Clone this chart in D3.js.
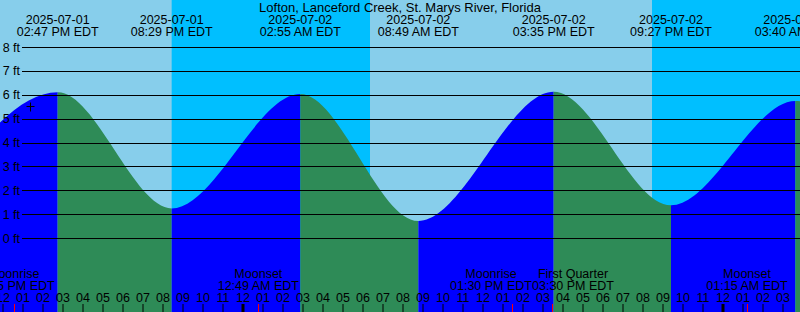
<!DOCTYPE html>
<html>
<head>
<meta charset="utf-8">
<script src="https://cdn.jsdelivr.net/npm/d3@7"></script>
<style>
  body { margin: 0; background: #fff; }
  svg { display: block; font-family: 'Liberation Sans', Arial, sans-serif; font-size: 12.5px; }
</style>
</head>
<body>
<script>
// tide extremes (first and last lie outside the visible window)
const tideTimes = ["2025-07-01 08:10", "2025-07-01 14:47", "2025-07-01 20:29", "2025-07-02 02:55",
                   "2025-07-02 08:49", "2025-07-02 15:35", "2025-07-02 21:27", "2025-07-03 03:40", "2025-07-03 09:50"];
const tideHeights = [0.9, 6.1, 1.24, 6.03, 0.71, 6.13, 1.37, 5.74, 0.95];

// night periods (sunset -> sunrise)
const nightStart = ["2025-07-01 20:29", "2025-07-02 20:30"];
const nightEnd = ["2025-07-02 06:24", "2025-07-03 06:25"];

// moon events
const moonTimes = ["2025-07-01 12:35", "2025-07-02 00:49", "2025-07-02 13:30", "2025-07-02 15:30", "2025-07-03 01:15"];
const moonNames = ["Moonrise", "Moonset", "Moonrise", "First Quarter", "Moonset"];

const depthTicks = [0, 1, 2, 3, 4, 5, 6, 7, 8];
const title = "Lofton, Lanceford Creek, St. Marys River, Florida";
const nowTime = "2025-07-01 13:24";
const nowHeight = 5.54;

const width = 800, height = 312;
const parse = d3.timeParse("%Y-%m-%d %H:%M");
const fmtDate = d3.timeFormat("%Y-%m-%d");
const fmtTime = d3.timeFormat("%I:%M %p EDT");

const tides = tideTimes.map((t, i) => ({t: parse(t), h: tideHeights[i]}));

const x = d3.scaleTime()
    .domain([parse("2025-07-01 11:54"), parse("2025-07-03 03:54")])
    .range([0, width]);
const y = d3.scaleLinear().domain([0, 8]).range([238, 47]);

const svg = d3.select('body').append('svg')
    .attr('width', width).attr('height', height)
    .attr('viewBox', [0, 0, width, height]);

// day background then night bands
svg.append('rect').attr('width', width).attr('height', height).attr('fill', '#87ceeb');
svg.selectAll('rect.night')
    .data(nightStart.map((s, i) => [parse(s), parse(nightEnd[i])]))
    .join('rect')
    .attr('class', 'night')
    .attr('x', d => x(d[0]))
    .attr('width', d => x(d[1]) - x(d[0]))
    .attr('height', height)
    .attr('fill', '#00bfff');

// tide area, coloured by rising / falling
const area = d3.area()
    .x(d => x(d.t))
    .y0(height)
    .y1(d => y(d.h))
    .curve(d3.curveMonotoneX);

const defs = svg.append('defs');
d3.pairs(tides).forEach(([a, b], i) => {
  defs.append('clipPath').attr('id', 'seg' + i)
    .append('rect')
    .attr('x', x(a.t)).attr('width', x(b.t) - x(a.t))
    .attr('y', 0).attr('height', height);
  svg.append('path')
    .datum(tides)
    .attr('d', area)
    .attr('clip-path', 'url(#seg' + i + ')')
    .attr('fill', b.h > a.h ? '#0000ff' : '#2e8b57');
});

// depth lines and labels
svg.selectAll('line.depth')
    .data(depthTicks)
    .join('line')
    .attr('class', 'depth')
    .attr('x1', 22).attr('x2', width)
    .attr('y1', d => Math.round(y(d)) + 0.5)
    .attr('y2', d => Math.round(y(d)) + 0.5)
    .attr('stroke', '#000');
svg.selectAll('text.depth')
    .data(depthTicks)
    .join('text')
    .attr('class', 'depth')
    .attr('x', 20)
    .attr('y', d => y(d))
    .attr('dy', '0.36em')
    .attr('text-anchor', 'end')
    .text(d => d + ' ft');

// current time marker
const nx = Math.round(x(parse(nowTime))) + 0.5, ny = Math.round(y(nowHeight)) + 0.5;
svg.append('path')
    .attr('d', `M${nx - 4},${ny}H${nx + 4}M${nx},${ny - 4}V${ny + 5}`)
    .attr('stroke', '#000');

// title and extreme labels
svg.append('text').attr('x', width / 2).attr('y', 12)
    .attr('font-size', 13)
    .attr('text-anchor', 'middle').text(title);

const shown = tides.filter(d => d.t >= x.domain()[0] && d.t <= x.domain()[1]);
const extremes = svg.selectAll('g.extreme')
    .data(shown)
    .join('g')
    .attr('class', 'extreme')
    .attr('transform', d => `translate(${x(d.t)},0)`)
    .attr('text-anchor', 'middle');
extremes.append('text').attr('y', 24).text(d => fmtDate(d.t));
extremes.append('text').attr('y', 36).text(d => fmtTime(d.t));

// hour axis at the bottom
const axis = svg.append('g')
    .attr('transform', `translate(0.5,${height})`)
    .call(d3.axisTop(x)
        .ticks(d3.timeHour.every(1))
        .tickSize(8)
        .tickPadding(2)
        .tickFormat(d3.timeFormat('%I')));
axis.select('.domain').remove();
axis.attr('font-size', null).attr('font-family', null);
axis.selectAll('.tick line')
    .attr('stroke-width', d => d.getHours() === 0 ? 3 : 1);

// moon events
const moon = moonTimes.map((t, i) => ({t: parse(t), name: moonNames[i]}));
svg.selectAll('line.moon')
    .data(moon)
    .join('line')
    .attr('class', 'moon')
    .attr('x1', d => Math.round(x(d.t)) + 0.5)
    .attr('x2', d => Math.round(x(d.t)) + 0.5)
    .attr('y1', height - 8).attr('y2', height)
    .attr('stroke', '#ff0000');
const ev = svg.selectAll('g.moon')
    .data(moon)
    .join('g')
    .attr('class', 'moon')
    .attr('text-anchor', 'middle');
ev.append('text').attr('y', 278).text(d => d.name);
ev.append('text').attr('y', 290).text(d => fmtTime(d.t));

// spread overlapping event labels apart
ev.each(function(d) {
  d.cx = x(d.t);
  d.w = d3.max(d3.select(this).selectAll('text').nodes(), n => n.getComputedTextLength());
});
for (let k = 0; k < 5; k++) {
  d3.pairs(moon).forEach(([a, b]) => {
    const gap = (a.w + b.w) / 2 - (b.cx - a.cx);
    if (gap > 0) { a.cx -= gap / 2; b.cx += gap / 2; }
  });
}
ev.attr('transform', d => `translate(${d.cx},0)`);
</script>
</body>
</html>
